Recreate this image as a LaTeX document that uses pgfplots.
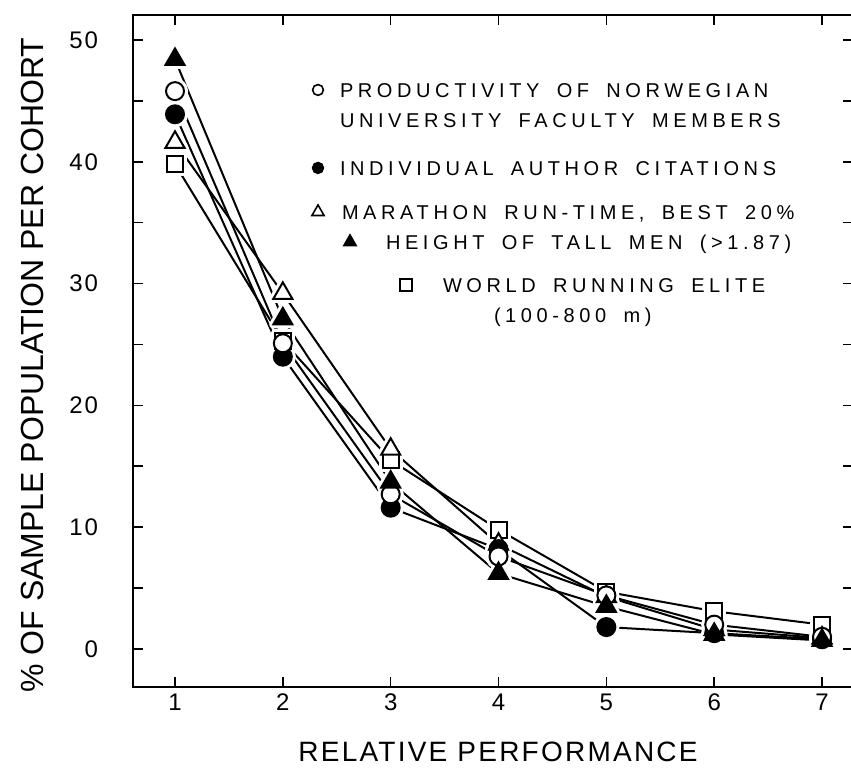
\documentclass[border=0pt]{standalone}
\usepackage{pgfplots}
\pgfplotsset{compat=1.18}
\usepackage{pgfplotstable}
\usepackage{fontspec}
\setmainfont{Liberation Sans}
\newfontfamily\legfont[LetterSpace=23,WordSpace=1.7]{Liberation Sans}
\newfontfamily\xlabfont[LetterSpace=8]{Liberation Sans}
\newfontfamily\tickfont[LetterSpace=8]{Liberation Sans}
\renewcommand{\arraystretch}{1.25}
\newcommand{\LE}[1]{\begin{tabular}[t]{@{}l@{}}#1\end{tabular}}

\pgfplotstableread{
x circ fcirc tri ftri sq
1 45.8 43.9 41.6 48.4 39.8
2 25.1 24.0 29.2 27.1 25.3
3 12.7 11.6 16.4 13.7 15.5
4 7.6 8.2 8.6 6.2 9.8
5 4.4 1.8 4.3 3.5 4.7
6 2.0 1.3 1.6 1.2 3.1
7 1.0 0.8 0.9 0.7 2.0
}\datatable

\begin{document}
\begin{tikzpicture}
\begin{axis}[
  scale only axis,
  width=360pt, height=336pt,
  xmin=0.6105, xmax=7.287,
  ymin=-3.12, ymax=52.05,
  axis line style={line width=1pt},
  tick align=inside,
  major tick length=5pt,
  tick style={line width=0.8pt, black},
  xtick={1,...,7},
  ytick={0,5,...,50},
  yticklabels={0,,10,,20,,30,,40,,50},
  /pgf/number format/assume math mode=true,
  ticklabel style={font=\tickfont\fontsize{12}{14}\selectfont},
  yticklabel style={xshift=-14pt},
  xlabel={RELATIVE PERFORMANCE},
  ylabel={\% OF SAMPLE POPULATION PER COHORT},
  xlabel style={font=\xlabfont\fontsize{14}{16}\selectfont, at={(axis description cs:0.507,-0.097)}, anchor=center},
  ylabel style={font=\fontsize{16}{18}\selectfont, at={(axis description cs:-0.139,0.479)}, anchor=center},
  legend style={at={(axis description cs:0.2875,0.909)}, anchor=north west, draw=none, fill=none,
    inner sep=0pt, outer sep=0pt, row sep=0pt, column sep=0pt,
    font=\legfont\fontsize{10}{12}\selectfont,
    nodes={inner sep=0pt, text depth=, anchor=base west},
    cells={anchor=base west, inner sep=0pt, text depth=}},
]
% lines
\addplot[forget plot, black, line width=1pt, no markers] table[x=x,y=sq]{\datatable};
\addplot[forget plot, black, line width=1pt, no markers] table[x=x,y=tri]{\datatable};
\addplot[forget plot, black, line width=1pt, no markers] table[x=x,y=fcirc]{\datatable};
\addplot[forget plot, black, line width=1pt, no markers] table[x=x,y=circ]{\datatable};
\addplot[forget plot, black, line width=1pt, no markers] table[x=x,y=ftri]{\datatable};
% white halos
\addplot[forget plot, only marks, mark=square*, mark size=4pt, mark options={draw=white, fill=white, line width=4pt, line join=round}] table[x=x,y=sq]{\datatable};
\addplot[forget plot, only marks, mark=triangle*, mark size=5.5pt, mark options={draw=white, fill=white, line width=4pt, line join=round}] table[x=x,y=tri]{\datatable};
\addplot[forget plot, only marks, mark=*, mark size=4.5pt, mark options={draw=white, fill=white, line width=4pt}] table[x=x,y=fcirc]{\datatable};
\addplot[forget plot, only marks, mark=*, mark size=4.5pt, mark options={draw=white, fill=white, line width=4pt}] table[x=x,y=circ]{\datatable};
\addplot[forget plot, only marks, mark=triangle*, mark size=5.5pt, mark options={draw=white, fill=white, line width=4pt, line join=round}] table[x=x,y=ftri]{\datatable};
% marks
\addplot[forget plot, only marks, mark=square*, mark size=4pt, mark options={draw=black, fill=white, line width=1pt}] table[x=x,y=sq]{\datatable};
\addplot[forget plot, only marks, mark=triangle*, mark size=5.5pt, mark options={draw=black, fill=white, line width=1pt}] table[x=x,y=tri]{\datatable};
\addplot[forget plot, only marks, mark=*, mark size=4.5pt, mark options={draw=black, fill=black, line width=1pt}] table[x=x,y=fcirc]{\datatable};
\addplot[forget plot, only marks, mark=*, mark size=4.5pt, mark options={draw=black, fill=white, line width=1pt}] table[x=x,y=circ]{\datatable};
\addplot[forget plot, only marks, mark=triangle*, mark size=5.5pt, mark options={draw=black, fill=black, line width=1pt}] table[x=x,y=ftri]{\datatable};
% legend
\addlegendimage{legend image code/.code={\draw[overlay, black, line width=0.8pt, mark=o, mark size=2.7pt, xshift=-11pt] plot coordinates {(0pt,3.6pt)};}}
\addlegendentry{\LE{PRODUCTIVITY OF NORWEGIAN\\UNIVERSITY FACULTY MEMBERS\rule[-13.5pt]{0pt}{13.5pt}}}
\addlegendimage{legend image code/.code={\draw[overlay, black, line width=0.8pt, mark=*, mark size=2.7pt, xshift=-11pt] plot coordinates {(0pt,3.6pt)};}}
\addlegendentry{\LE{INDIVIDUAL AUTHOR CITATIONS\rule[-11.5pt]{0pt}{11.5pt}}}
\addlegendimage{legend image code/.code={\draw[overlay, black, line width=0.8pt, mark=triangle, mark size=3.5pt, xshift=-11pt] plot coordinates {(0pt,3.6pt)};}}
\addlegendentry{\LE{\hspace*{1pt}MARATHON RUN-TIME, BEST 20\%}}
\addlegendimage{legend image code/.code={\draw[overlay, black, line width=0.8pt, mark=triangle*, mark size=3.5pt, xshift=5pt] plot coordinates {(0pt,3.6pt)};}}
\addlegendentry{\LE{\hspace*{23pt}HEIGHT OF TALL MEN (>1.87)\rule[-11pt]{0pt}{11pt}}}
\addlegendimage{legend image code/.code={\draw[overlay, black, line width=0.8pt, mark=square, mark size=3pt, xshift=33pt] plot coordinates {(0pt,3.6pt)};}}
\addlegendentry{\LE{\hspace*{51.5pt}WORLD RUNNING ELITE\\\hspace*{77pt}(100-800 m)}}
\end{axis}
\pgfresetboundingbox
\path (current axis.south west) ++(-66.5pt,-47.5pt) rectangle ++(425.5pt,391pt);
\end{tikzpicture}
\end{document}
